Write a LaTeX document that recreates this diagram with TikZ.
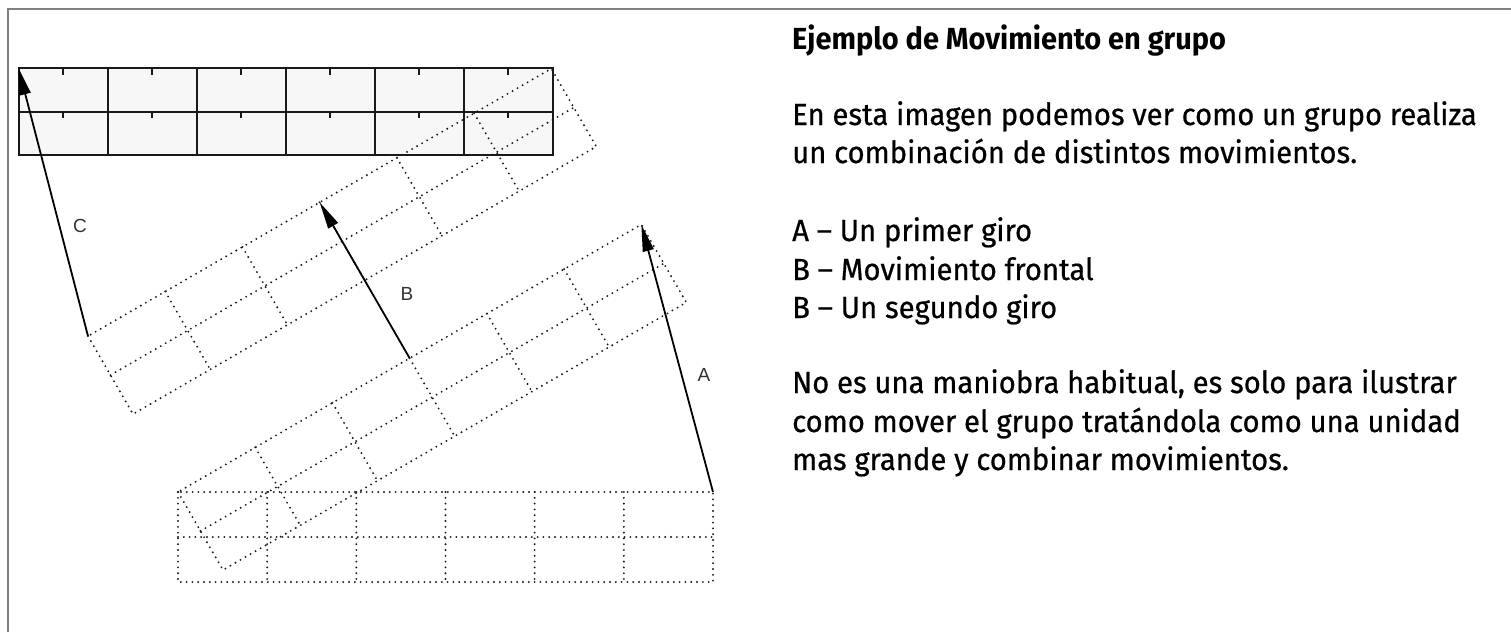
\documentclass[tikz,border=0pt]{standalone}
\usepackage{fontspec}
\setmainfont{Fira Sans}[FakeStretch=0.96,FakeBold=0.6]
\newfontfamily\titlefont{Fira Sans}[FakeStretch=0.95]
\newfontfamily\lblfont{Liberation Sans}
\usetikzlibrary{arrows.meta}
\newcommand\dotgroup[1]{%
  \draw[dotgrid] (0,0) rectangle (535,90);
  \draw[dotgrid] (0,45) -- (535,45);
  \foreach \i in {1,...,5} {\draw[dotgrid] ({\i*89.1667},0) -- ({\i*89.1667},90);}
}
\begin{document}
\begin{tikzpicture}[x=1pt,y=-1pt,
  solidgrid/.style={draw=black!90, line width=2pt},
  dotgrid/.style={draw=black!90, line width=2.1pt, dash pattern=on 0pt off 5.8pt, line cap=round},
  tick/.style={draw=black!90, line width=2pt},
  mvarrow/.style={draw=black, line width=1.8pt, -{Triangle[length=27pt,width=11pt]}},
  lbl/.style={font=\lblfont\fontsize{19}{19}\selectfont, text=black!80, inner sep=0pt},
  body/.style={font=\fontsize{30.5}{30.5}\selectfont, anchor=base west, inner sep=0pt},
  ttl/.style={font=\titlefont\bfseries\fontsize{30.5}{30.5}\selectfont, anchor=base west, inner sep=0pt}
]
\useasboundingbox (0,0) rectangle (1511,632);
\fill[white] (0,0) rectangle (1511,632);
% frame
\draw[black!50, line width=1.6pt] (7.7,632) -- (7.7,9) -- (1511,9);

% final group (solid)
\begin{scope}[shift={(18.5,68)}]
  \fill[black!3] (0,0) rectangle (534.2,87);
  \draw[solidgrid] (0,0) rectangle (534.2,87);
  \draw[solidgrid] (0,43.5) -- (534.2,43.5);
  \foreach \i in {1,...,5} {\draw[solidgrid] ({\i*89.033},0) -- ({\i*89.033},87);}
  \foreach \i in {0,...,5} {
    \draw[tick] ({\i*89.033+44.5},0) -- ++(0,6.5);
    \draw[tick] ({\i*89.033+44.5},43.5) -- ++(0,6.5);
  }
  \coordinate (Ftl) at (0,0);
\end{scope}

% start group
\begin{scope}[shift={(178,492)}]
  \dotgroup{}
  \coordinate (Str) at (535,0);
\end{scope}
% after first turn
\begin{scope}[shift={(178,492)}, rotate=30]
  \dotgroup{}
  \coordinate (Afr) at (535,0);
  \coordinate (Afm) at (267.5,0);
\end{scope}
% after frontal move
\begin{scope}[shift={(178,492)}, rotate=30, shift={(0,-180)}]
  \dotgroup{}
  \coordinate (Bfm) at (267.5,0);
  \coordinate (Bfl) at (0,0);
\end{scope}

% arrows
\draw[mvarrow] (Str) -- (Afr);
\draw[mvarrow] (Afm) -- (Bfm);
\draw[mvarrow] (Bfl) -- (Ftl);
\node[lbl] (la) at (704,375) {A};
\node[lbl] (lb) at (407,294) {B};
\node[lbl] (lc) at (80,226) {C};

% text
\node[ttl] (title) at (792,49) {Ejemplo de Movimiento en grupo};
\node[body] (t1) at (792,125) {En esta imagen podemos ver como un grupo realiza};
\node[body] (t2) at (792,163) {un combinación de distintos movimientos.};
\node[body] (t3) at (792,241) {A – Un primer giro};
\node[body] (t4) at (792,280) {B – Movimiento frontal};
\node[body] (t5) at (792,318) {B – Un segundo giro};
\node[body] (t6) at (792,393) {No es una maniobra habitual, es solo para ilustrar};
\node[body] (t7) at (792,432) {como mover el grupo tratándola como una unidad};
\node[body] (t8) at (792,470) {mas grande y combinar movimientos.};
\end{tikzpicture}
\end{document}
